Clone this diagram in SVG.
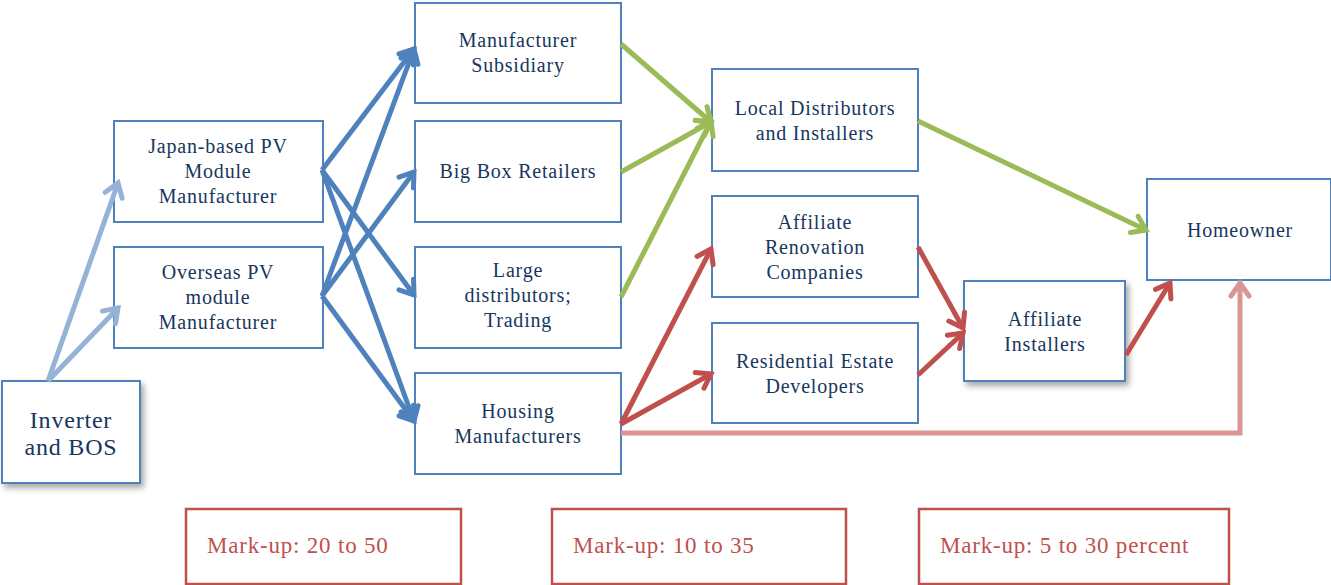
<svg xmlns="http://www.w3.org/2000/svg" width="1331" height="585" viewBox="0 0 1331 585">
<style>
.box{fill:#fff;stroke:#4F81BD;stroke-width:2}
.mk{fill:#fff;stroke:#C0504D;stroke-width:2.5}
.t{font-family:"Liberation Serif","DejaVu Serif",serif;font-size:20px;letter-spacing:0.8px;fill:#17365D;text-anchor:middle}
.big{font-size:24px}
.mt{font-family:"Liberation Serif","DejaVu Serif",serif;font-size:23px;letter-spacing:0.8px;fill:#C0504D}
.c{fill:none;stroke-width:5}
.lb{stroke:#95B3D7}
.bl{stroke:#4F81BD}
.gr{stroke:#9BBB59}
.rd{stroke:#C0504D}
.pk{stroke:#D99694}
</style>
<defs>
<filter id="sh" x="-20%" y="-20%" width="150%" height="150%">
<feGaussianBlur in="SourceAlpha" stdDeviation="3"/>
<feOffset dx="3" dy="4"/>
<feComponentTransfer><feFuncA type="linear" slope="0.35"/></feComponentTransfer>
<feMerge><feMergeNode/><feMergeNode in="SourceGraphic"/></feMerge>
</filter>
<marker id="aLB" markerUnits="userSpaceOnUse" viewBox="-16 -12 20 24" refX="0" refY="0" markerWidth="20" markerHeight="24" orient="auto"><path d="M-13,-9 L0,0 L-13,9" fill="none" stroke="#95B3D7" stroke-width="5" stroke-linecap="round"/></marker>
<marker id="aBL" markerUnits="userSpaceOnUse" viewBox="-16 -12 20 24" refX="0" refY="0" markerWidth="20" markerHeight="24" orient="auto"><path d="M-13,-9 L0,0 L-13,9" fill="none" stroke="#4F81BD" stroke-width="5" stroke-linecap="round"/></marker>
<marker id="aGR" markerUnits="userSpaceOnUse" viewBox="-16 -12 20 24" refX="0" refY="0" markerWidth="20" markerHeight="24" orient="auto"><path d="M-13,-9 L0,0 L-13,9" fill="none" stroke="#9BBB59" stroke-width="5" stroke-linecap="round"/></marker>
<marker id="aRD" markerUnits="userSpaceOnUse" viewBox="-16 -12 20 24" refX="0" refY="0" markerWidth="20" markerHeight="24" orient="auto"><path d="M-13,-9 L0,0 L-13,9" fill="none" stroke="#C0504D" stroke-width="5" stroke-linecap="round"/></marker>
<marker id="aPK" markerUnits="userSpaceOnUse" viewBox="-16 -12 20 24" refX="0" refY="0" markerWidth="20" markerHeight="24" orient="auto"><path d="M-13,-9 L0,0 L-13,9" fill="none" stroke="#D99694" stroke-width="5" stroke-linecap="round"/></marker>
</defs>

<g id="inverter"><rect class="box" x="2" y="381" width="138" height="102" filter="url(#sh)"/><text class="t big" x="71" y="428">Inverter</text><text class="t big" x="71" y="455">and BOS</text></g>
<g id="japan"><rect class="box" x="114" y="121" width="209" height="101"/><text class="t" x="218" y="153">Japan-based PV</text><text class="t" x="218" y="178">Module</text><text class="t" x="218" y="203">Manufacturer</text></g>
<g id="overseas"><rect class="box" x="114" y="247" width="209" height="101"/><text class="t" x="218" y="279">Overseas PV</text><text class="t" x="218" y="304">module</text><text class="t" x="218" y="329">Manufacturer</text></g>
<g id="subsidiary"><rect class="box" x="415" y="3" width="206" height="100"/><text class="t" x="518" y="47">Manufacturer</text><text class="t" x="518" y="72">Subsidiary</text></g>
<g id="bigbox"><rect class="box" x="415" y="121" width="206" height="101"/><text class="t" x="518" y="178">Big Box Retailers</text></g>
<g id="large"><rect class="box" x="415" y="247" width="206" height="101"/><text class="t" x="518" y="277">Large</text><text class="t" x="518" y="302">distributors;</text><text class="t" x="518" y="327">Trading</text></g>
<g id="housing"><rect class="box" x="415" y="373" width="206" height="101"/><text class="t" x="518" y="418">Housing</text><text class="t" x="518" y="443">Manufacturers</text></g>
<g id="local"><rect class="box" x="712" y="69" width="206" height="102"/><text class="t" x="815" y="115">Local Distributors</text><text class="t" x="815" y="140">and Installers</text></g>
<g id="renovation"><rect class="box" x="712" y="196" width="206" height="101"/><text class="t" x="815" y="229">Affiliate</text><text class="t" x="815" y="254">Renovation</text><text class="t" x="815" y="279">Companies</text></g>
<g id="residential"><rect class="box" x="712" y="323" width="206" height="100"/><text class="t" x="815" y="368">Residential Estate</text><text class="t" x="815" y="393">Developers</text></g>
<g id="installers"><rect class="box" x="964" y="281" width="161" height="100" filter="url(#sh)"/><text class="t" x="1045" y="326">Affiliate</text><text class="t" x="1045" y="351">Installers</text></g>
<g id="homeowner"><rect class="box" x="1147" y="179" width="184" height="101"/><text class="t" x="1240" y="237">Homeowner</text></g>

<g id="markup1"><rect class="mk" x="186" y="509" width="275" height="75"/><text class="mt" x="207" y="553">Mark-up: 20 to 50</text></g>
<g id="markup2"><rect class="mk" x="552" y="509" width="294" height="75"/><text class="mt" x="573" y="553">Mark-up: 10 to 35</text></g>
<g id="markup3"><rect class="mk" x="919" y="509" width="310" height="75"/><text class="mt" x="940" y="553">Mark-up: 5 to 30 percent</text></g>

<g id="connectors">
<path class="c lb" d="M48,381 L118,183" marker-end="url(#aLB)"/>
<path class="c lb" d="M48,381 L118,308" marker-end="url(#aLB)"/>
<path class="c bl" d="M322,170 L414,49" marker-end="url(#aBL)"/>
<path class="c bl" d="M322,170 L414,295" marker-end="url(#aBL)"/>
<path class="c bl" d="M322,170 L414,421" marker-end="url(#aBL)"/>
<path class="c bl" d="M322,296 L414,49" marker-end="url(#aBL)"/>
<path class="c bl" d="M322,296 L414,172" marker-end="url(#aBL)"/>
<path class="c bl" d="M322,296 L414,421" marker-end="url(#aBL)"/>
<path class="c gr" d="M621,44 L711,122" marker-end="url(#aGR)"/>
<path class="c gr" d="M621,172 L711,122" marker-end="url(#aGR)"/>
<path class="c gr" d="M621,297 L711,121" marker-end="url(#aGR)"/>
<path class="c gr" d="M918,121 L1146,230" marker-end="url(#aGR)"/>
<path class="c rd" d="M621,424 L711,249" marker-end="url(#aRD)"/>
<path class="c rd" d="M621,424 L711,374" marker-end="url(#aRD)"/>
<path class="c rd" d="M918,247 L963,328" marker-end="url(#aRD)"/>
<path class="c rd" d="M918,375 L963,333" marker-end="url(#aRD)"/>
<path class="c rd" d="M1126,355 L1170,283" marker-end="url(#aRD)"/>
<path class="c pk" d="M621,433 L1240,433 L1240,283" marker-end="url(#aPK)"/>
</g>
</svg>
